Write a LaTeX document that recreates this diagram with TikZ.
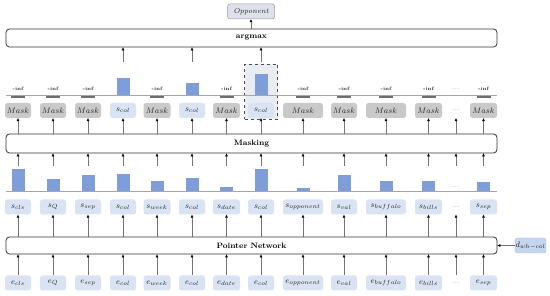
\documentclass[tikz,border=0pt]{standalone}
\usetikzlibrary{arrows.meta}
\definecolor{lb}{HTML}{DAE3F3}
\definecolor{mgray}{HTML}{C9C9C9}
\definecolor{barblue}{HTML}{7F9DD8}
\definecolor{opfill}{HTML}{DFE1EA}
\definecolor{opdraw}{HTML}{9A9AA5}
\definecolor{dfill}{HTML}{C5D5EE}
\definecolor{ddraw}{HTML}{A9BFE2}
\definecolor{selfill}{HTML}{E9EDF3}
\definecolor{markgray}{HTML}{6E6E6E}
\definecolor{basegray}{HTML}{A6A6A6}
\definecolor{txt}{HTML}{262626}
\begin{document}
\begin{tikzpicture}[x=1pt,y=-1pt,
  bigbox/.style={draw=black!80, line width=0.8pt, rounded corners=3.5pt, fill=white,
    minimum width=491pt, inner sep=0pt, font=\bfseries\fontsize{7.8}{9}\selectfont},
  tok/.style={fill=lb, rounded corners=2.5pt, minimum height=15pt, inner sep=0pt,
    text=txt, font=\fontsize{8.3}{9}\selectfont},
  maskbox/.style={fill=mgray, rounded corners=2.5pt, minimum height=15pt, inner sep=0pt,
    text=txt, font=\fontsize{8.5}{9}\selectfont},
  dotsnode/.style={minimum height=15pt, minimum width=14pt, inner sep=0pt, text=black!50,
    font=\fontsize{7}{8}\selectfont},
  arr/.style={draw=black!55, line width=0.5pt, -{Triangle[length=3pt,width=2.6pt,color=black]}},
  infl/.style={font=\bfseries\fontsize{4.8}{5}\selectfont, text=txt, inner sep=0pt},
  baseline line/.style={draw=basegray, line width=0.6pt},
  marker/.style={draw=markgray, line width=2.4pt},
]
\useasboundingbox (0,0) rectangle (550,296);

% big boxes
\node[bigbox, minimum height=18pt] (am) at (251.5,38) {argmax};
\node[bigbox, minimum height=19pt] (mk) at (251.5,143.5) {Masking};
\node[bigbox, minimum height=17pt] (pn) at (251.5,245.5) {Pointer Network};

% opponent
\node[fill=opfill, draw=opdraw, line width=0.5pt, rounded corners=2.5pt, minimum width=47pt,
  minimum height=15pt, inner sep=0pt, text=txt, font=\itshape\fontsize{7.2}{8}\selectfont]
  (op) at (251,11.5) {Opponent};
\draw[arr] (am.north -| op) -- (op);

% d box
\node[fill=dfill, draw=ddraw, line width=0.4pt, rounded corners=2.5pt, minimum width=31pt,
  minimum height=15pt, inner sep=0pt, text=txt, font=\fontsize{8}{9}\selectfont]
  (d) at (530.5,245.5) {$d_{wh-col}$};
\draw[arr] (d) -- (d -| pn.east);

% selection dashed box
\node[fill=selfill, draw=black!70, dashed, line width=0.8pt, minimum width=33pt,
  minimum height=55pt, inner sep=0pt] (sel) at (261,92) {};

% baselines
\draw[baseline line] (6,191) -- (497,191);
\draw[baseline line] (6,95) -- (497,95);

% e row, s row, bars, arrows
\foreach \i/\x/\w/\lab/\h in {1/18/26/cls/22, 2/53/26/Q/12, 3/88/26/sep/16, 4/123/26/col/17,
  5/157/27/week/10, 6/192/26/col/13, 7/226.5/27/date/4, 8/261/26/col/22,
  9/303/40/opponent/3, 10/344/26/val/16, 11/386/40/buffalo/10, 12/428.5/27/bills/10,
  14/483.5/27/sep/9} {
  \node[tok, minimum width=\w pt] (e\i) at (\x,283) {$e_{\lab}$};
  \node[tok, minimum width=\w pt] (s\i) at (\x,207) {$s_{\lab}$};
  \fill[barblue] (\x-6.5,191) rectangle (\x+6.5,191-\h);
  \coordinate (bt\i) at (\x,166);
}
\node[dotsnode] (e13) at (456,283) {...};
\node[dotsnode] (s13) at (456,207) {...};
\node[dotsnode] (b13) at (456,187) {...};
\coordinate (bt13) at (456,166);

\foreach \i in {1,...,14} {
  \draw[arr] (e\i) -- (e\i |- pn.south);
  \draw[arr] (pn.north -| s\i) -- (s\i);
  \draw[arr] (bt\i) -- (bt\i |- mk.south);
}

% mask row
\foreach \i/\x/\w in {1/18/26, 2/53/26, 3/88/26, 5/157/27, 7/226.5/27, 9/303/40,
  10/344/26, 11/386/40, 12/428.5/27, 14/483.5/27} {
  \node[maskbox, minimum width=\w pt] (m\i) at (\x,110.5) {$Mask$};
  \draw[marker] (\x-7,97) -- (\x+7,97);
  \node[infl] (inf\i) at (\x,89) {-inf};
}
\foreach \i/\x/\w/\h in {4/123/26/17, 6/192/26/12, 8/261/26/21} {
  \node[tok, minimum width=\w pt] (m\i) at (\x,110.5) {$s_{col}$};
  \fill[barblue] (\x-6.5,95) rectangle (\x+6.5,95-\h);
  \coordinate (tt\i) at (\x,62);
  \draw[arr] (tt\i) -- (tt\i |- am.south);
}
\node[dotsnode] (m13) at (456,110.5) {...};
\node[dotsnode] (inf13) at (456,89) {...};

\foreach \i in {1,...,14} {
  \draw[arr] (mk.north -| m\i) -- (m\i);
}
\end{tikzpicture}
\end{document}
